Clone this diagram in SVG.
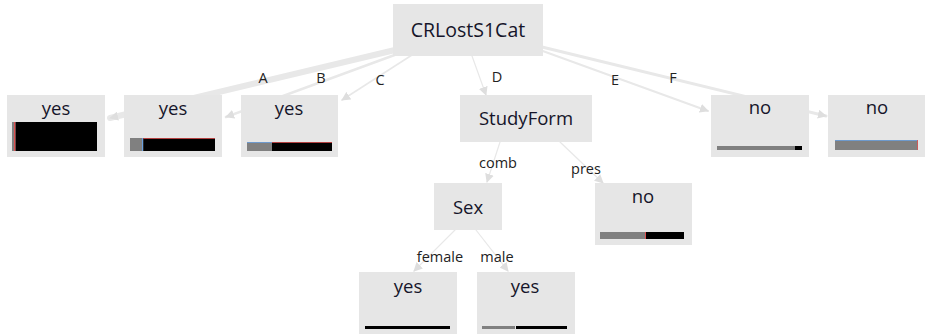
<svg xmlns="http://www.w3.org/2000/svg" width="929" height="334" viewBox="0 0 929 334">
<style>
.node{fill:#e6e6e6}
.lbl{font-family:"Open Sans","Noto Sans",sans-serif;fill:#15152a;text-anchor:middle}
.big{font-size:18.5px}
.el{font-family:"Open Sans","Noto Sans",sans-serif;font-size:14.5px;fill:#222;text-anchor:middle}
.edge{fill:none;stroke:#e8e8e8;stroke-linecap:round}
.g{fill:#808080}.k{fill:#000}.r{fill:#e05050}.b{fill:#6aa0e0}
</style>
<defs>
<marker id="ah" viewBox="0 0 10 10" refX="9" refY="5" markerWidth="9" markerHeight="9" markerUnits="userSpaceOnUse" orient="auto"><path d="M0,0L10,5L0,10z" fill="#dedede"/></marker>
</defs>
<rect width="929" height="334" fill="#fff"/>
<g id="connectors">
<path class="edge" d="M395,50 L110,118" stroke-width="6" marker-end="url(#ah)"/>
<path class="edge" d="M400,53 L226,117" stroke-width="2.5" marker-end="url(#ah)"/>
<path class="edge" d="M412,55 L342,100" stroke-width="1.5" marker-end="url(#ah)"/>
<path class="edge" d="M472,56 L486,95" stroke-width="1.2" marker-end="url(#ah)"/>
<path class="edge" d="M540,50 L708,111" stroke-width="2" marker-end="url(#ah)"/>
<path class="edge" d="M542,47 L826,116" stroke-width="3" marker-end="url(#ah)"/>
<path class="edge" d="M500,142 L487,182" stroke-width="1.2" marker-end="url(#ah)"/>
<path class="edge" d="M560,142 L603,183" stroke-width="1.2" marker-end="url(#ah)"/>
<path class="edge" d="M455,230 L414,271" stroke-width="1.2" marker-end="url(#ah)"/>
<path class="edge" d="M476,230 L508,271" stroke-width="1.2" marker-end="url(#ah)"/>
</g>
<g id="edge-labels">
<text class="el" x="263" y="83">A</text>
<text class="el" x="321" y="83">B</text>
<text class="el" x="380" y="85">C</text>
<text class="el" x="497" y="82">D</text>
<text class="el" x="615" y="85">E</text>
<text class="el" x="673" y="83">F</text>
<text class="el" x="498" y="168">comb</text>
<text class="el" x="586" y="174">pres</text>
<text class="el" x="440" y="262">female</text>
<text class="el" x="497" y="262">male</text>
</g>
<g id="n-root">
<rect class="node" x="393" y="4" width="150" height="52"/>
<text class="lbl big" x="468" y="37" style="font-size:19.5px">CRLostS1Cat</text>
</g>
<g id="n-yesA">
<rect class="node" x="7" y="95" width="98" height="62"/>
<text class="lbl big" x="56" y="115">yes</text>
<rect class="g" x="12" y="122" width="2" height="29"/>
<rect class="r" x="14" y="122" width="1.5" height="29"/>
<rect class="k" x="15.5" y="122" width="81.5" height="29"/>
</g>
<g id="n-yesB">
<rect class="node" x="124" y="95" width="98" height="62"/>
<text class="lbl big" x="173" y="115">yes</text>
<rect class="g" x="130" y="138" width="12" height="13"/>
<rect class="b" x="142" y="138" width="1.2" height="13"/>
<rect class="k" x="143.2" y="138" width="71.8" height="13"/>
<rect class="r" x="143.2" y="138" width="71.8" height="0.8"/>
</g>
<g id="n-yesC">
<rect class="node" x="241" y="95" width="97" height="62"/>
<text class="lbl big" x="289" y="115">yes</text>
<rect class="g" x="247" y="142" width="25" height="9"/>
<rect class="b" x="247" y="142" width="25" height="0.8"/>
<rect class="k" x="272" y="142" width="60" height="9"/>
<rect class="r" x="272" y="142" width="60" height="0.8"/>
</g>
<g id="n-studyform">
<rect class="node" x="460" y="95" width="132" height="47"/>
<text class="lbl big" x="526" y="125">StudyForm</text>
</g>
<g id="n-noE">
<rect class="node" x="711" y="95" width="98" height="62"/>
<text class="lbl big" x="760" y="114">no</text>
<rect class="g" x="717" y="146" width="78" height="4"/>
<rect class="k" x="795" y="146" width="7" height="4"/>
</g>
<g id="n-noF">
<rect class="node" x="828" y="95" width="97" height="62"/>
<text class="lbl big" x="877" y="114">no</text>
<rect class="g" x="835" y="140" width="83" height="10"/>
<rect class="b" x="835" y="140" width="83" height="0.8"/>
<rect class="r" x="917.2" y="140" width="0.8" height="10"/>
</g>
<g id="n-sex">
<rect class="node" x="434" y="183" width="68" height="47"/>
<text class="lbl big" x="468" y="214">Sex</text>
</g>
<g id="n-noPres">
<rect class="node" x="595" y="183" width="97" height="62"/>
<text class="lbl big" x="643" y="203">no</text>
<rect class="g" x="600" y="232" width="45" height="7"/>
<rect class="r" x="645" y="232" width="1" height="7"/>
<rect class="k" x="646" y="232" width="38" height="7"/>
</g>
<g id="n-female">
<rect class="node" x="359" y="272" width="98" height="62"/>
<text class="lbl big" x="408" y="293">yes</text>
<rect class="k" x="365" y="326" width="85" height="3"/>
</g>
<g id="n-male">
<rect class="node" x="477" y="272" width="98" height="62"/>
<text class="lbl big" x="525" y="293">yes</text>
<rect class="g" x="482" y="326" width="33" height="3"/>
<rect class="k" x="516" y="326" width="51" height="3"/>
</g>
</svg>
